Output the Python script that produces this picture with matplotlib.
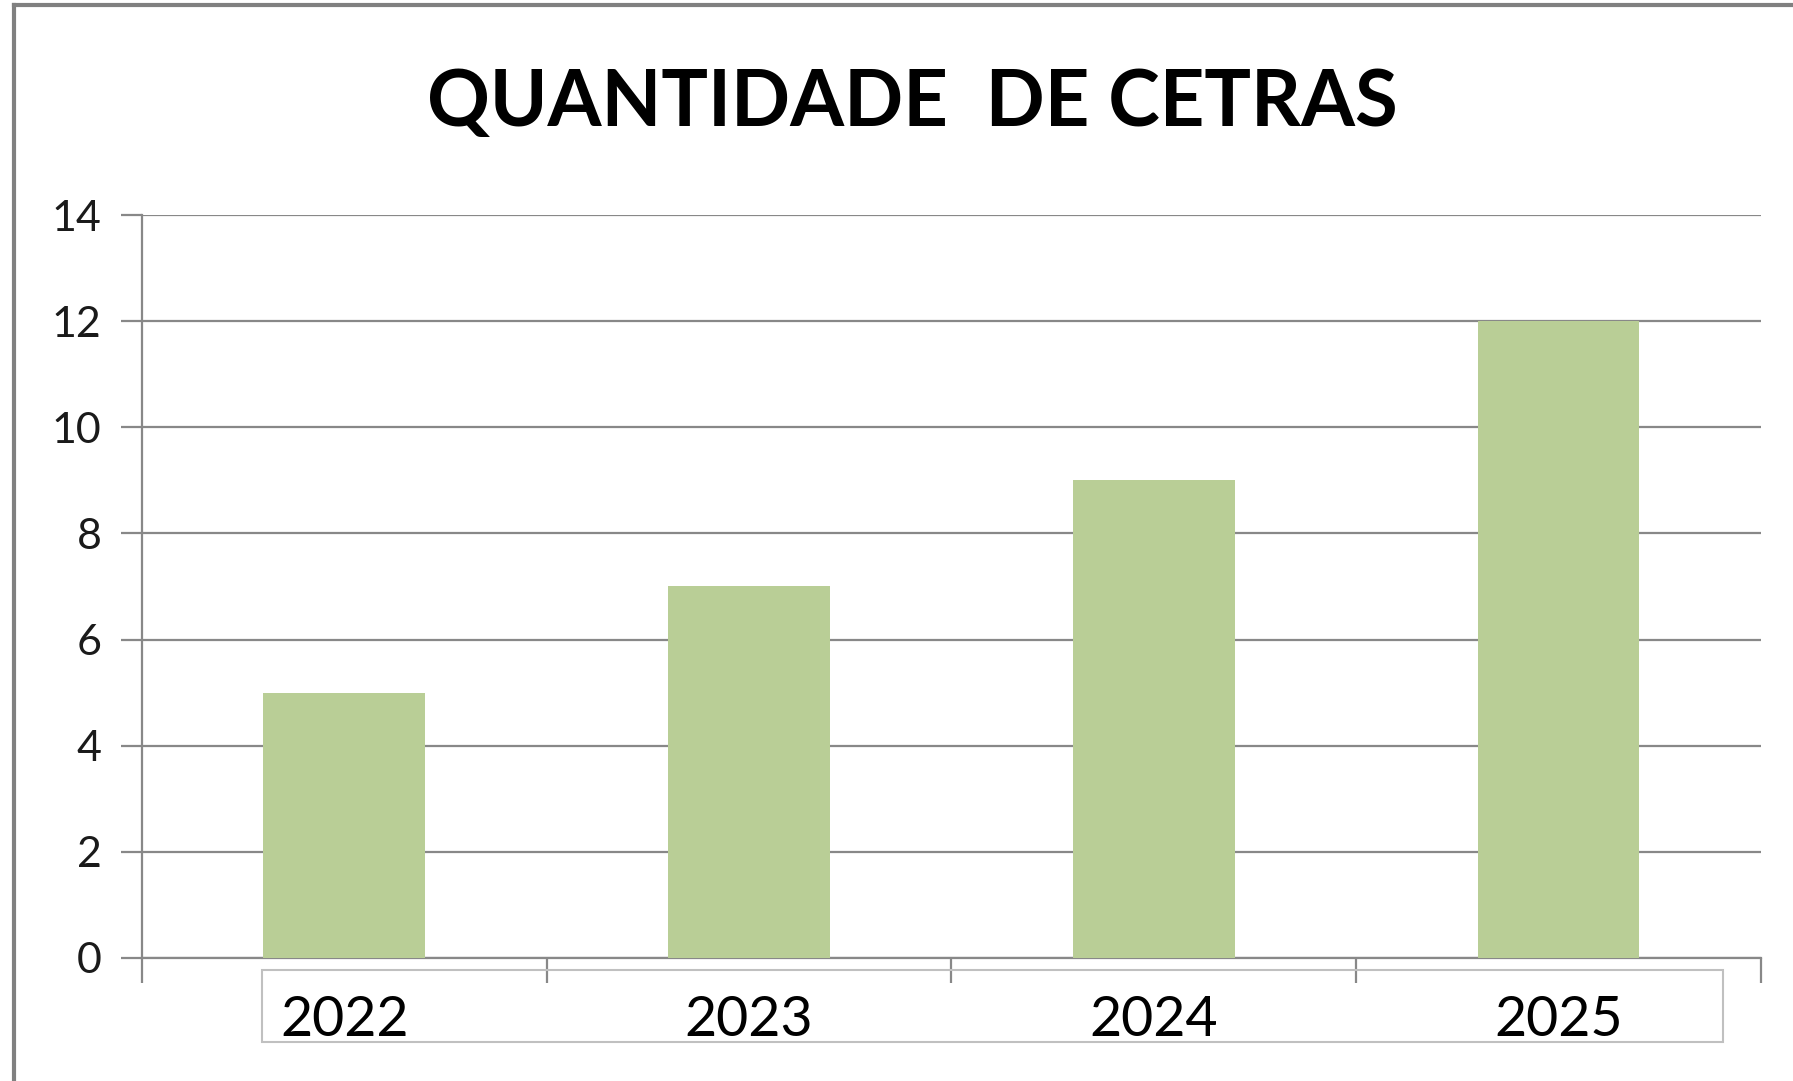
import matplotlib
matplotlib.use("Agg")
import numpy as np
from matplotlib import pyplot as plt
from matplotlib.lines import Line2D
from matplotlib.patches import Rectangle

anos = ["2022", "2023", "2024", "2025"]
cetras = [5, 7, 9, 12]
y_ticks = [0, 2, 4, 6, 8, 10, 12, 14]

plt.rcParams['font.family'] = ['Lato', 'DejaVu Sans']

cinza = "#888888"
verde = "#B9CE96"

fig = plt.figure(figsize=(17.93, 10.81), dpi=100)
ax = fig.add_axes([0.0791, 0.1138, 0.9821 - 0.0791, 0.8011 - 0.1138])

x = np.arange(len(anos))
ax.bar(x, cetras, width=0.4, color=verde, zorder=3)

ax.set_xlim(-0.5, len(anos) - 0.5)
ax.set_ylim(0, 14)
ax.set_yticks(y_ticks)
ax.set_yticklabels([str(v) for v in y_ticks], fontsize=31, color="#1a1a1a")
ax.yaxis.grid(True, color=cinza, linewidth=1.6, zorder=0)
ax.tick_params(axis="y", length=15, width=1.6, color=cinza, pad=14)

# categorias: ticks nas divisas, rotulos no centro
ax.set_xticks(np.arange(len(anos) + 1) - 0.5, minor=True)
ax.set_xticks(x)
ax.set_xticklabels(anos, fontsize=40)
ax.tick_params(axis="x", which="major", length=0, pad=27)
ax.tick_params(axis="x", which="minor", length=18, width=1.6, color=cinza)

for s in ["top", "right"]:
    ax.spines[s].set_visible(False)
for s in ["left", "bottom"]:
    ax.spines[s].set_color(cinza)
    ax.spines[s].set_linewidth(1.6)

# caixa em volta dos anos
fig.patches.append(Rectangle((262 / 1793, 1 - 1042 / 1081), (1723 - 262) / 1793, (1042 - 970) / 1081,
                             transform=fig.transFigure, fill=False, edgecolor="#C0C0C0", linewidth=1.5))

# borda do grafico (so esquerda e topo aparecem)
fig.lines.append(Line2D([13.5 / 1793, 13.5 / 1793], [0, 1 - 5 / 1081], transform=fig.transFigure,
                        color="#808080", linewidth=3))
fig.lines.append(Line2D([13.5 / 1793, 1], [1 - 5 / 1081, 1 - 5 / 1081], transform=fig.transFigure,
                        color="#808080", linewidth=3))

fig.text(0.509, 1 - 104 / 1081, "QUANTIDADE  DE CETRAS", ha="center", va="center",
         fontsize=56, fontweight="bold", color="black")

fig.savefig("out.png", dpi=100)
